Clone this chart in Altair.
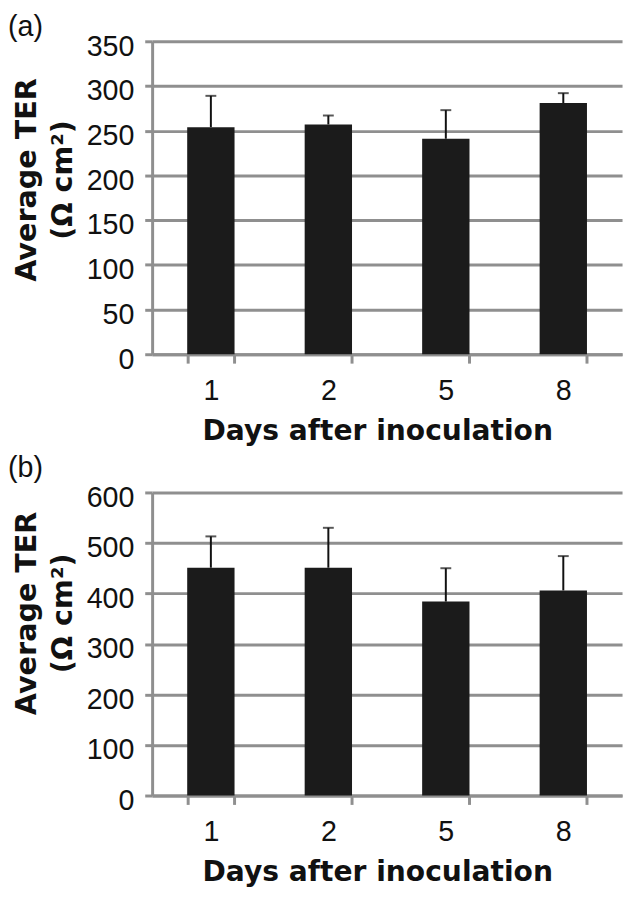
import altair as alt
import pandas as pd

# ---- data ----
days = ["1", "2", "5", "8"]
ter_a_mean = [254, 257, 241, 281]
ter_a_upper = [289, 267, 273, 292]
ter_b_mean = [451, 451, 384, 406]
ter_b_upper = [513, 530, 450, 474]
y_ticks_a = [0, 50, 100, 150, 200, 250, 300, 350]
y_ticks_b = [0, 100, 200, 300, 400, 500, 600]
panel_labels = ["(a)", "(b)"]
x_title = "Days after inoculation"
y_title = ["Average TER", "(Ω cm²)"]

GRAY = "#8f8f8f"
INK = "#111111"
BAR = "#1b1b1b"
W = 476


def panel(mean, upper, ticks, h, label, ytitle_center, label_y):
    df = pd.DataFrame({"day": days, "mean": mean, "upper": upper})
    x_axis = alt.Axis(
        title=x_title, labelAngle=0, tickBand="extent", grid=False,
        tickSize=9, labelPadding=14, labelFontSize=29, labelFont="Liberation Sans",
        titleFont="DejaVu Sans", titleFontSize=28.5, titleFontWeight="bold",
        titleX=228, titleY=63, titleAlign="center", titleBaseline="top",
    )
    x = alt.X("day:N", sort=days,
              scale=alt.Scale(paddingInner=0.597, paddingOuter=0.2985),
              axis=x_axis)
    y_axis = alt.Axis(
        values=ticks, title=y_title, grid=True, tickSize=7.5, labelPadding=11,
        labelOffset=5,
        labelFontSize=29, labelFont="Liberation Sans",
        titleFont="DejaVu Sans", titleFontSize=29, titleFontWeight="bold",
        titleAngle=270, titleAlign="center", titleBaseline="top",
        titleLineHeight=36, titleX=-141, titleY=ytitle_center,
    )
    yscale = alt.Scale(domain=[ticks[0], ticks[-1]], nice=False)
    base = alt.Chart(df)
    bars = base.mark_bar(color=BAR).encode(
        x=x, y=alt.Y("mean:Q", scale=yscale, axis=y_axis))
    rule = base.mark_rule(color=INK, strokeWidth=2).encode(
        x=x, y=alt.Y("mean:Q", scale=yscale, axis=y_axis), y2="upper:Q")
    cap = base.mark_tick(color=INK, thickness=2, size=11, orient="horizontal").encode(
        x=x, y=alt.Y("upper:Q", scale=yscale, axis=y_axis))
    lab = alt.Chart(pd.DataFrame({"t": [label]})).mark_text(
        align="left", baseline="top", font="Liberation Sans", fontSize=29, color=INK
    ).encode(text="t:N", x=alt.value(-146), y=alt.value(label_y))
    return alt.layer(bars, rule, cap, lab).properties(width=W, height=h)


pa = panel(ter_a_mean, ter_a_upper, y_ticks_a, 317, panel_labels[0], 140, -28)
pb = panel(ter_b_mean, ter_b_upper, y_ticks_b, 307, panel_labels[1], 122, -39)

chart = alt.vconcat(pa, pb, spacing=9).properties(
    padding={"left": 0, "top": 0, "right": 3, "bottom": 0}
).configure_view(stroke=None).configure_axis(
    domainColor=GRAY, domainWidth=3, tickColor=GRAY, tickWidth=3,
    gridColor=GRAY, gridWidth=3, gridOpacity=1,
    labelColor=INK, titleColor=INK,
)

chart.save("out.html", embed_options={"renderer": "svg", "actions": False})
